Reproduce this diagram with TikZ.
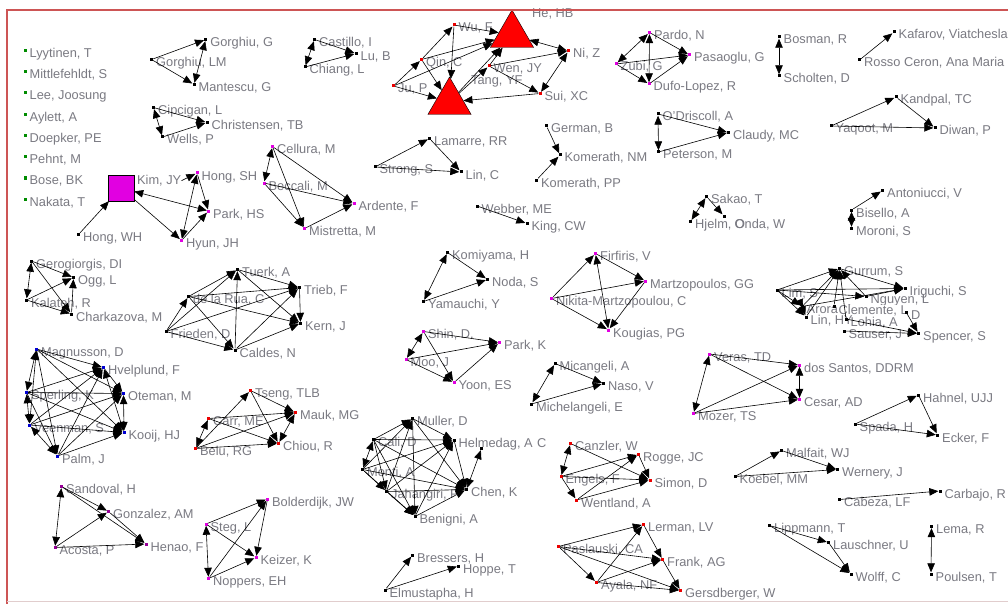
\documentclass[tikz,border=0pt]{standalone}
\usepackage{fontspec}
\setmainfont{Liberation Sans}
\usetikzlibrary{arrows.meta,shapes.geometric}
\definecolor{lblgray}{RGB}{122,122,130}
\definecolor{framered}{RGB}{205,85,85}
\definecolor{framelight}{RGB}{225,205,205}
\definecolor{mgn}{RGB}{225,0,225}
\definecolor{grn}{RGB}{0,140,0}
\definecolor{rd}{RGB}{235,0,0}
\definecolor{bl}{RGB}{0,0,210}
\definecolor{prp}{RGB}{150,0,150}
\tikzset{
  pt/.style={rectangle, inner sep=0pt, minimum size=3pt, draw=none},
  lbl/.style={anchor=base west, inner sep=0pt, text=lblgray, font=\fontsize{12.8}{14}\selectfont},
  arr/.style={draw=black, line width=0.6pt, -{Triangle[length=9pt,width=7.5pt]}},
  biarr/.style={draw=black, line width=0.6pt, {Triangle[length=9pt,width=7.5pt]}-{Triangle[length=9pt,width=7.5pt]}},
  bigtri/.style={regular polygon, regular polygon sides=3, minimum size=50pt, inner sep=0pt, fill=red, draw=black, line width=0.4pt},
}
% actor: marker square plus its name to the right
\newcommand\pn[5]{\node[pt,fill=#5] (#1) at (#2,#3) {}; \node[lbl] (#1-t) at (#2+4.5,#3+7) {#4};}

\begin{document}
\begin{tikzpicture}[x=1pt,y=-1pt]
\useasboundingbox (0,0) rectangle (1008,604);
\clip (0,0) rectangle (1008,604);
\fill[white] (0,0) rectangle (1008,604);

% isolates
\pn{lyy}{25}{50.5}{Lyytinen, T}{grn}
\pn{mit}{25}{71.5}{Mittlefehldt, S}{grn}
\pn{lee}{25}{93}{Lee, Joosung}{grn}
\pn{ayl}{25}{114.5}{Aylett, A}{grn}
\pn{doe}{25}{136}{Doepker, PE}{grn}
\pn{peh}{25}{156.5}{Pehnt, M}{grn}
\pn{bsk}{25}{178}{Bose, BK}{grn}
\pn{nak}{25}{199.5}{Nakata, T}{grn}

% Gorghiu group
\pn{gg}{205.7}{39.5}{Gorghiu, G}{black}
\pn{glm}{151.5}{59.5}{Gorghiu, LM}{black}
\pn{man}{194}{84.5}{Mantescu, G}{black}
% Cipcigan group
\pn{cip}{153.5}{107.5}{Cipcigan, L}{black}
\pn{chr}{207}{122.5}{Christensen, TB}{black}
\pn{wel}{162.5}{137}{Wells, P}{black}
% Castillo group
\pn{cas}{314.5}{39.5}{Castillo, I}{black}
\pn{lub}{356}{53.5}{Lu, B}{black}
\pn{chi}{305}{67}{Chiang, L}{black}

% He group
\pn{wuf}{454}{25}{Wu, F}{rd}
\pn{qin}{421.5}{59.5}{Qin, C}{rd}
\pn{jup}{393.5}{86}{Ju, P}{rd}
\pn{wen}{489}{66}{Wen, JY}{rd}
\pn{niz}{568.5}{51}{Ni, Z}{rd}
\pn{sui}{540}{93.5}{Sui, XC}{rd}
\node[bigtri] (heb) at (512,35) {};
\node[lbl] (heb-t) at (532,17.5) {He, HB};
\node[bigtri] (tang) at (449.5,102) {};
\node[lbl] (tang-t) at (471,84.5) {Tang, YF};

% Pardo group
\pn{par}{649.5}{32.5}{Pardo, N}{mgn}
\pn{zub}{616}{64}{Zubi, G}{mgn}
\pn{pas}{689.5}{55}{Pasaoglu, G}{mgn}
\pn{duf}{649}{84}{Dufo-Lopez, R}{mgn}
% Bosman, Kafarov, Kandpal
\pn{bsm}{779}{37}{Bosman, R}{black}
\pn{sch}{779}{76}{Scholten, D}{black}
\pn{kaf}{894}{32}{Kafarov, Viatcheslav}{black}
\pn{ros}{859.5}{60}{Rosso Ceron, Ana Maria}{black}
\pn{kan}{896}{97}{Kandpal, TC}{black}
\pn{yaq}{831}{126}{Yaqoot, M}{black}
\pn{diw}{935}{128}{Diwan, P}{black}
% O'Driscoll group
\pn{odr}{658}{114}{O'Driscoll, A}{black}
\pn{pet}{658.5}{152}{Peterson, M}{black}
\pn{cla}{728.5}{132.5}{Claudy, MC}{black}
% German group
\pn{ger}{546.5}{126}{German, B}{black}
\pn{kom}{560}{155}{Komerath, NM}{black}
\pn{kpp}{536.5}{180}{Komerath, PP}{black}
% Lamarre group
\pn{lam}{429.5}{138.5}{Lamarre, RR}{black}
\pn{str}{375}{167}{Strong, S}{black}
\pn{linc}{461}{172}{Lin, C}{black}
\pn{web}{477}{206}{Webber, ME}{black}
\pn{kin}{527}{223.5}{King, CW}{black}

% Kim group
\node[rectangle, minimum size=26pt, inner sep=0pt, fill=mgn, draw=black, line width=0.4pt] (kim) at (121,188) {};
\node[lbl] (kim-t) at (137,184.5) {Kim, JY};
\pn{hsh}{197}{173}{Hong, SH}{mgn}
\pn{phs}{208.5}{211}{Park, HS}{mgn}
\pn{hyu}{181.5}{240.5}{Hyun, JH}{mgn}
\pn{hwh}{78.5}{234.5}{Hong, WH}{black}
% Cellura group
\pn{cel}{272.5}{146.5}{Cellura, M}{mgn}
\pn{bec}{264}{183}{Beccali, M}{mgn}
\pn{ard}{354}{203.5}{Ardente, F}{mgn}
\pn{mis}{304.5}{228.5}{Mistretta, M}{mgn}
% Gerogiorgis group
\pn{gdi}{31.5}{261}{Gerogiorgis, DI}{black}
\pn{ogg}{73.5}{277.5}{Ogg, L}{black}
\pn{kal}{26.5}{300}{Kalateh, R}{black}
\pn{chk}{71.5}{314}{Charkazova, M}{black}
% Tuerk group
\pn{tue}{237.5}{269.5}{Tuerk, A}{black}
\pn{dlr}{188.5}{296.5}{de la Rua, C}{black}
\pn{tri}{299.5}{287.5}{Trieb, F}{black}
\pn{ker}{300.5}{323.5}{Kern, J}{black}
\pn{fri}{166}{331.5}{Frieden, D}{black}
\pn{cal}{235}{350}{Caldes, N}{black}
% Magnusson group
\pn{mag}{36.5}{349}{Magnusson, D}{bl}
\pn{hve}{103.5}{367.5}{Hvelplund, F}{bl}
\pn{spe}{26.5}{392.5}{Sperling, K}{bl}
\pn{ote}{123.5}{393.5}{Oteman, M}{bl}
\pn{vee}{29.5}{425}{Veenman, S}{bl}
\pn{koo}{124}{432.5}{Kooij, HJ}{bl}
\pn{pal}{57.5}{456}{Palm, J}{bl}
% Tseng group
\pn{tse}{250.5}{390.5}{Tseng, TLB}{rd}
\pn{car}{208.5}{418.5}{Carr, ME}{rd}
\pn{bel}{195.5}{448.5}{Belu, RG}{rd}
\pn{mau}{295.5}{412.5}{Mauk, MG}{rd}
\pn{chu}{278.5}{443.5}{Chiou, R}{rd}
% Sandoval group
\pn{san}{61.5}{486.5}{Sandoval, H}{prp}
\pn{gon}{108.5}{511.5}{Gonzalez, AM}{prp}
\pn{aco}{55}{547.5}{Acosta, P}{prp}
\pn{hen}{146}{544}{Henao, F}{prp}
% Steg group
\pn{ste}{206}{524}{Steg, L}{mgn}
\pn{nop}{208.5}{578.5}{Noppers, EH}{mgn}
\pn{bol}{267.5}{499}{Bolderdijk, JW}{mgn}
\pn{kei}{256}{557.5}{Keizer, K}{mgn}
% Komiyama group
\pn{kmy}{447.5}{252.5}{Komiyama, H}{black}
\pn{nod}{487.5}{279.5}{Noda, S}{black}
\pn{yam}{423.5}{301.5}{Yamauchi, Y}{black}
% Shin group
\pn{shi}{423.5}{331.5}{Shin, D.}{mgn}
\pn{pak}{499.5}{342.5}{Park, K}{mgn}
\pn{moo}{406}{359.5}{Moo, J}{mgn}
\pn{yoo}{454}{382.5}{Yoon, ES}{mgn}
% Cali group
\pn{mul}{412.5}{418.5}{Muller, D}{black}
\pn{cali}{373.5}{439.5}{Cali, D}{black}
\node[pt,fill=black] (xac) at (481.5,448.5) {};
\node[lbl] (xac-t) at (537,447.5) {C};
\pn{hel}{454}{440}{Helmedag, A}{black}
\pn{mon}{362.5}{469.5}{Monti, A}{black}
\pn{jah}{386.5}{491.5}{Jahangiri, P}{black}
\pn{che}{466.5}{489.5}{Chen, K}{black}
\pn{ben}{415}{516.5}{Benigni, A}{black}
% Bressers group
\pn{bre}{412.5}{555}{Bressers, H}{black}
\pn{hop}{458.5}{566}{Hoppe, T}{black}
\pn{elm}{385}{590}{Elmustapha, H}{black}
% Firfiris group
\pn{fir}{595.5}{253.5}{Firfiris, V}{mgn}
\pn{mar}{645.5}{281}{Martzopoulos, GG}{mgn}
\pn{nik}{551.5}{298.5}{Nikita-Martzopoulou, C}{mgn}
\pn{kou}{608.5}{330}{Kougias, PG}{mgn}
% Micangeli group
\pn{mic}{555}{363.5}{Micangeli, A}{black}
\pn{nas}{603.5}{383.5}{Naso, V}{black}
\pn{mch}{531.5}{404}{Michelangeli, E}{black}
% Sakao group: Onda's name runs into Hjelm's on one line
\pn{sak}{706.5}{196.5}{Sakao, T}{black}
\pn{hje}{690.5}{221.5}{Hjelm, O}{black}
\node[pt,fill=black] (ond) at (724,216) {};
\node[lbl] (ond-t) at (734.5,228.5) {Onda, W};
% Antoniucci group
\pn{ant}{882.5}{190.5}{Antoniucci, V}{black}
\pn{bis}{851.5}{210}{Bisello, A}{black}
\pn{mor}{851.5}{228.5}{Moroni, S}{black}
% Gurrum group
\pn{gur}{839.5}{268.5}{Gurrum, S}{black}
\pn{iri}{905}{288.5}{Iriguchi, S}{black}
\pn{ngu}{866}{296.5}{Nguyen, L}{black}
\pn{lim}{777}{290}{Lim, S}{black}
\pn{aro}{802}{306.5}{Arora, A}{black}
\node[pt,fill=black] (cle) at (834,306) {};
\node[lbl,fill=white] (cle-t) at (838.5,314.5) {Clemente, L};
\pn{lhy}{806}{317}{Lin, HY}{black}
\pn{loh}{846}{319}{Lohia, A}{black}
\node[pt,fill=black] (dnd) at (906,312) {};
\node[lbl] (dnd-t) at (911,319.5) {D};
\pn{sau}{844}{331}{Sauser, J}{black}
\pn{spn}{918.5}{333.5}{Spencer, S}{black}
% Veras group
\pn{ver}{709.5}{354}{Veras, TD}{mgn}
\pn{moz}{693.5}{413.5}{Mozer, TS}{mgn}
\pn{dos}{799.5}{365}{dos Santos, DDRM}{mgn}
\pn{ces}{799.5}{399.5}{Cesar, AD}{mgn}
% Hahnel group
\pn{hah}{918.5}{395}{Hahnel, UJJ}{black}
\pn{spa}{855}{424}{Spada, H}{black}
\pn{eck}{937.5}{435}{Ecker, F}{black}
% Malfait group
\pn{mal}{781.5}{450.5}{Malfait, WJ}{black}
\pn{koe}{735}{476.5}{Koebel, MM}{black}
\pn{wer}{837.5}{469.5}{Wernery, J}{black}
\pn{cab}{839.5}{499.5}{Cabeza, LF}{black}
\pn{cbj}{940}{491}{Carbajo, R}{black}
% Lippmann group
\pn{lip}{769.5}{525.5}{Lippmann, T}{black}
\pn{lau}{828.5}{542.5}{Lauschner, U}{black}
\pn{wol}{851}{574}{Wolff, C}{black}
\pn{lem}{931.5}{526.5}{Lema, R}{black}
\pn{pou}{931}{574}{Poulsen, T}{black}
% Canzler group
\pn{can}{570.5}{443.5}{Canzler, W}{rd}
\pn{rog}{638.5}{454.5}{Rogge, JC}{rd}
\pn{eng}{561}{476.5}{Engels, F}{rd}
\pn{sim}{650}{480}{Simon, D}{rd}
\pn{wnt}{576.5}{500}{Wentland, A}{rd}
% Lerman group
\pn{ler}{643.5}{524.5}{Lerman, LV}{rd}
\pn{psl}{558.5}{546.5}{Paslauski, CA}{rd}
\pn{fra}{662.5}{559.5}{Frank, AG}{rd}
\pn{aya}{596.5}{582.5}{Ayala, NF}{rd}
\pn{ges}{680.5}{590.5}{Gersdberger, W}{rd}

% one-way ties
\foreach \a/\b in {glm/gg, glm/man, cip/chr, wel/chr, cas/lub, chi/lub,
  jup/qin, qin/wuf, qin/heb, jup/heb, wuf/heb, wuf/tang, qin/tang, jup/tang,
  tang/heb, tang/wen, wen/heb, wen/sui, sui/tang, wen/niz,
  zub/duf, par/pas, zub/pas, duf/pas, ros/kaf, yaq/kan, yaq/diw, kan/diw,
  odr/cla, pet/cla, ger/kom, kpp/kom, str/lam, str/linc, lam/linc, web/kin,
  kim/hyu, hwh/kim, hsh/phs, hyu/phs,
  cel/ard, bec/ard, cel/mis, bec/mis, mis/ard,
  gdi/ogg, kal/ogg, chk/ogg, kal/chk, gdi/chk,
  fri/dlr, fri/tue, dlr/tue, tue/tri, tue/ker, dlr/tri, dlr/ker, fri/cal,
  cal/tue, cal/tri, cal/ker, tri/ker, dlr/cal, fri/tri,
  mag/hve, mag/ote, mag/koo, spe/hve, spe/ote, spe/koo, hve/ote, vee/koo,
  vee/ote, pal/koo, pal/ote, pal/hve, spe/pal, mag/pal, vee/hve,
  tse/mau, tse/chu, car/mau, car/chu, bel/mau, bel/chu, bel/tse,
  san/gon, san/hen, aco/gon, aco/hen, gon/hen,
  ste/kei, nop/kei, ste/bol, nop/bol, bol/kei,
  kmy/nod, yam/nod, shi/pak, moo/pak, moo/yoo, shi/yoo, yoo/pak,
  cali/mul, mon/mul, jah/mul, mul/hel, cali/hel, mon/hel, jah/hel, ben/hel,
  mon/che, cali/che, mul/che, hel/che, jah/che, ben/che, cali/jah, mon/jah,
  mon/ben, cali/ben, jah/ben, mul/ben,
  elm/bre, elm/hop, nik/fir, fir/mar, nik/mar, nik/kou, mar/kou,
  mic/nas, mch/nas, sak/ond, bis/ant,
  lim/gur, aro/gur, lhy/gur, cle/gur, loh/gur, ngu/gur, lim/iri, gur/iri,
  aro/iri, ngu/iri, lim/ngu, lim/aro, lim/lhy, loh/spn, sau/spn, dnd/spn,
  ver/dos, ver/ces, moz/dos, moz/ces, spa/hah, hah/eck, spa/eck,
  koe/mal, mal/wer, koe/wer, cab/cbj, lip/lau, lip/wol, lau/wol,
  eng/wnt, can/sim, eng/sim, wnt/sim, eng/rog, rog/sim, wnt/rog,
  psl/ler, psl/fra, psl/aya, psl/ges, aya/ler, aya/fra, aya/ges, ler/fra, fra/ges}
  \draw[arr] (\a) -- (\b);

% reciprocated ties
\foreach \a/\b in {gg/man, cip/wel, cas/chi, niz/heb, sui/niz, zub/par, par/duf,
  bsm/sch, odr/pet, kim/phs, hsh/hyu, cel/bec, gdi/kal,
  mag/spe, mag/vee, spe/vee, hve/koo, ote/koo, vee/pal, bel/car, chu/mau,
  san/aco, ste/nop, kmy/yam, shi/moo, mon/cali, xac/che, fir/kou, mch/mic,
  hje/sak, bis/mor, aro/lhy, ver/moz, dos/ces, lem/pou, can/eng}
  \draw[biarr] (\a) -- (\b);

\draw[arr] (kim-t.east) -- (hsh);

% frame
\draw[framered, line width=1.6pt] (7,604) -- (7,10) -- (1008,10);
\draw[framelight, line width=1pt] (7,601) -- (1008,601);
\end{tikzpicture}
\end{document}
